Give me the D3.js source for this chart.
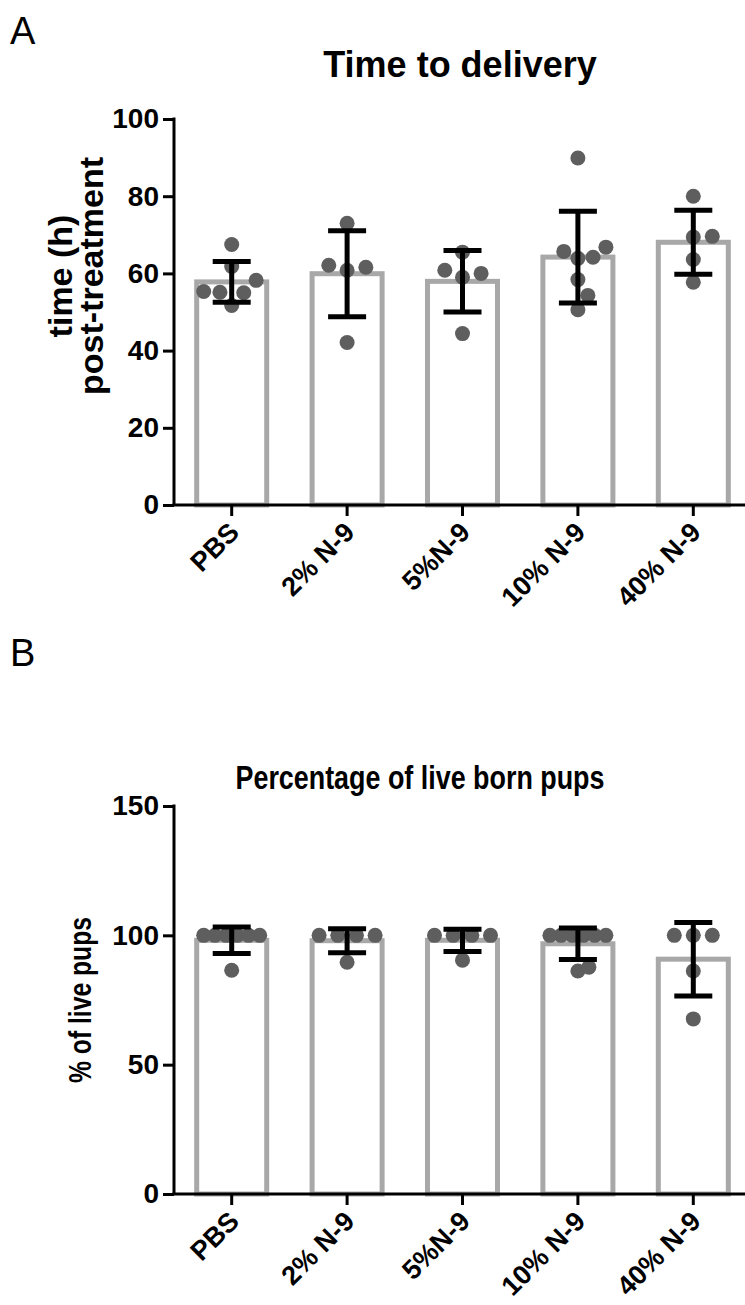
<!DOCTYPE html>
<html>
<head>
<meta charset="utf-8">
<script src="https://cdnjs.cloudflare.com/ajax/libs/d3/7.8.5/d3.min.js"></script>
<style>
  html, body { margin: 0; padding: 0; background: #fff; }
  svg { display: block; font-family: "Liberation Sans", Arial, sans-serif; }
  .axis path, .axis line { stroke: #000; stroke-width: 3; }
  .axis text { font-size: 28px; font-weight: bold; fill: #000; }
  .axis.x text { font-size: 27px; }
</style>
</head>
<body>
<svg id="fig" width="745" height="1305"></svg>
<script>
var categories = ['PBS', '2% N-9', '5%N-9', '10% N-9', '40% N-9'];

// panel A: time to delivery, hours post-treatment (one value per animal)
var deliveryHours = [
  [67.5, 61.8, 58.2, 55.1, 55.0, 55.3, 51.7],
  [73.0, 61.6, 60.8, 62.1, 42.1],
  [65.5, 60.0, 59.0, 60.8, 44.4],
  [89.9, 63.9, 65.7, 66.8, 64.2, 58.4, 54.3, 50.6],
  [80.0, 69.6, 69.4, 63.6, 57.7]
];
var deliveryTicks = [0, 20, 40, 60, 80, 100];

// panel B: percentage of live born pups per litter
var livePups = [
  [100, 100, 100, 100, 100, 100, 86.5],
  [100, 100, 100, 100, 89.6],
  [100, 100, 100, 100, 90.4],
  [100, 100, 100, 100, 100, 100, 86.2, 87.7],
  [100, 100, 100, 86.2, 67.7]
];
var livePupsTicks = [0, 50, 100, 150];

(function (d3) {
  'use strict';
  var svg = d3.select('#fig');
  var barGray = '#a8a8a8';
  var dotGray = '#5e5e5e';
  var dotR = 7.5;

  var x = d3.scaleBand().domain(categories).range([174, 751]).paddingInner(0.35).paddingOuter(0.175);

  /** simple beeswarm so equal values sit side by side */
  var swarm = function (values, y, d, maxHalf) {
    var pts = values.map(function (v) { return { v: v, py: y(v), dx: 0 }; });
    var placed = [];
    pts.slice().sort(function (a, b) { return a.v - b.v; }).forEach(function (p) {
      var cands = [0];
      placed.forEach(function (q) {
        var dy = Math.abs(q.py - p.py);
        if (dy < d) {
          var w = Math.sqrt(d * d - dy * dy);
          cands.push(q.dx + w, q.dx - w);
        }
      });
      cands.sort(function (a, b) { return Math.abs(a) - Math.abs(b) || b - a; });
      p.dx = cands.find(function (c) {
        return placed.every(function (q) { return Math.hypot(q.dx - c, q.py - p.py) >= d - 0.01; });
      });
      placed.push(p);
    });
    d3.group(pts, function (p) { return p.v; }).forEach(function (g) {
      if (g.length > 1) {
        var m = d3.mean(g, function (p) { return p.dx; });
        g.forEach(function (p) { p.dx -= m; });
      }
    });
    var ext = d3.max(pts, function (p) { return Math.abs(p.dx); });
    var k = ext > maxHalf ? maxHalf / ext : 1;
    pts.forEach(function (p) { p.dx *= k; });
    return pts;
  };

  // narrow text (panel B uses a condensed face)
  var fitText = function (sel, len) {
    if (len) {
      sel.attr('textLength', len).attr('lengthAdjust', 'spacingAndGlyphs');
    }
    return sel;
  };

  var drawPanel = function (opt) {
    var g = svg.append('g');
    var y = d3.scaleLinear().domain([0, opt.max]).range([opt.y0, opt.y1]);
    var stats = opt.data.map(function (vals, i) {
      return { cat: categories[i], vals: vals, mean: d3.mean(vals), sd: d3.deviation(vals) };
    });

    // panel letter and title
    g.append('text').attr('x', 10).attr('y', opt.letterY)
      .style('font-size', '38px').text(opt.letter);
    var title = g.append('text').attr('x', opt.titleX).attr('y', opt.titleY)
      .attr('text-anchor', 'middle').style('font-size', opt.titleSize).style('font-weight', 'bold')
      .text(opt.title);
    fitText(title, opt.titleLen);

    // bars
    g.append('g').selectAll('rect').data(stats).enter().append('rect')
      .attr('x', function (d) { return x(d.cat) + 2.5; })
      .attr('width', x.bandwidth() - 5)
      .attr('y', function (d) { return y(d.mean); })
      .attr('height', function (d) { return y(0) - y(d.mean); })
      .attr('fill', '#fff').attr('stroke', barGray).attr('stroke-width', 5);

    // individual points
    stats.forEach(function (s) {
      var cx = x(s.cat) + x.bandwidth() / 2;
      g.append('g').selectAll('circle').data(swarm(s.vals, y, 19, 28)).enter().append('circle')
        .attr('cx', function (p) { return cx + p.dx; })
        .attr('cy', function (p) { return p.py; })
        .attr('r', dotR).attr('fill', dotGray);
    });

    // mean +/- SD error bars
    var eb = g.append('g').attr('stroke', '#000').attr('stroke-width', 5).selectAll('g')
      .data(stats).enter().append('g')
      .attr('transform', function (d) { return 'translate(' + (x(d.cat) + x.bandwidth() / 2) + ',0)'; });
    eb.append('line').attr('x1', 0).attr('x2', 0)
      .attr('y1', function (d) { return y(d.mean + d.sd); })
      .attr('y2', function (d) { return y(d.mean - d.sd); });
    eb.append('line').attr('x1', -19).attr('x2', 19)
      .attr('y1', function (d) { return y(d.mean + d.sd); })
      .attr('y2', function (d) { return y(d.mean + d.sd); });
    eb.append('line').attr('x1', -19).attr('x2', 19)
      .attr('y1', function (d) { return y(d.mean - d.sd); })
      .attr('y2', function (d) { return y(d.mean - d.sd); });

    // axes
    var ya = g.append('g').attr('class', 'axis').attr('transform', 'translate(174,0)')
      .call(d3.axisLeft(y).tickValues(opt.ticks).tickSize(11).tickPadding(4).tickSizeOuter(0));
    var xa = g.append('g').attr('class', 'axis x').attr('transform', 'translate(0,' + opt.y0 + ')')
      .call(d3.axisBottom(x).tickSize(11).tickSizeOuter(0));
    xa.select('.domain').attr('d', 'M172.5,0H751');
    ya.select('.domain').attr('d', 'M0,' + opt.y0 + 'V' + (opt.y1 - 1.5));
    xa.selectAll('text')
      .attr('x', 0).attr('y', 0).attr('dy', 0)
      .attr('text-anchor', 'end')
      .attr('transform', 'translate(9,29) rotate(-45)');

    // y axis title
    var yl = g.append('text').attr('text-anchor', 'middle').style('font-size', opt.labelSize).style('font-weight', 'bold')
      .attr('transform', 'translate(0,' + opt.labelCy + ') rotate(-90)');
    opt.yLabel.forEach(function (line, i) {
      fitText(yl.append('tspan').attr('x', 0).attr('y', opt.labelX[i]).text(line), opt.labelLen);
    });
  };

  drawPanel({
    letter: 'A', letterY: 44, title: 'Time to delivery', titleX: 460, titleY: 77, titleSize: '36px',
    data: deliveryHours, max: 100, ticks: deliveryTicks, y0: 505, y1: 119,
    yLabel: ['time (h)', 'post-treatment'], labelX: [72, 103], labelCy: 276, labelSize: '34px'
  });
  drawPanel({
    letter: 'B', letterY: 666, title: 'Percentage of live born pups', titleX: 420, titleY: 789,
    titleSize: '33px', titleLen: 369,
    data: livePups, max: 150, ticks: livePupsTicks, y0: 1194, y1: 806,
    yLabel: ['% of live pups'], labelX: [91], labelCy: 1000, labelSize: '31px', labelLen: 166
  });
})(d3);
</script>
</body>
</html>
